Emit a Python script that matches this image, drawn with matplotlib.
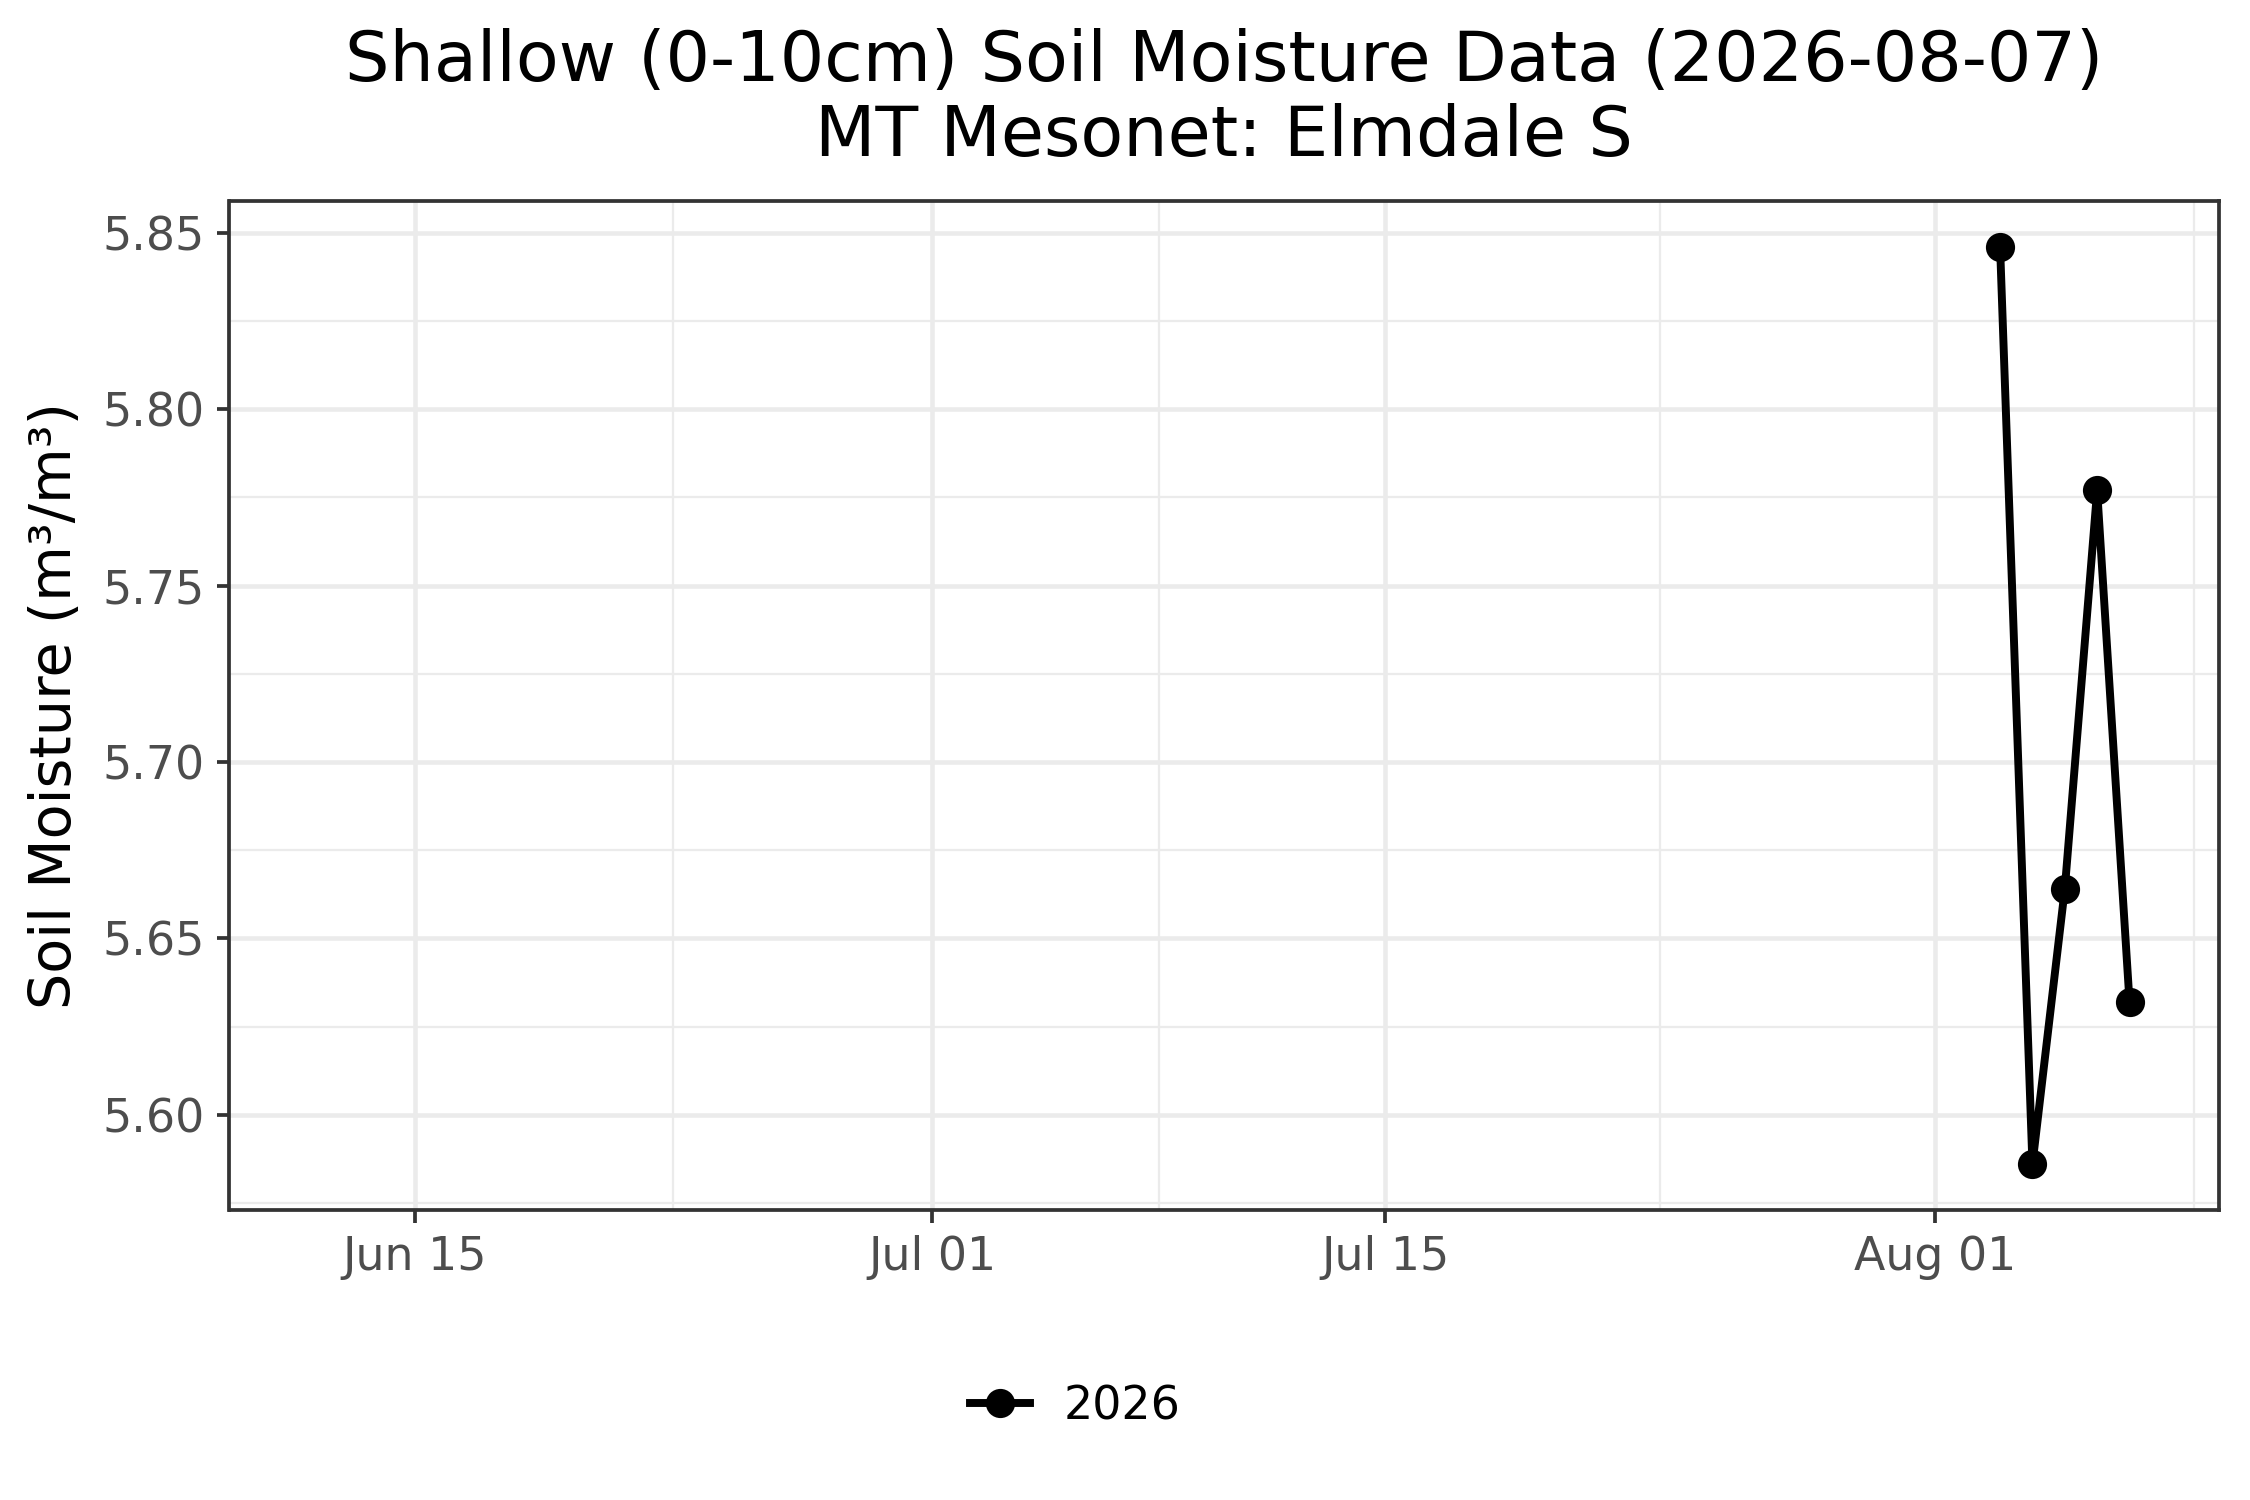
import datetime as dt
import matplotlib
matplotlib.use("Agg")
import matplotlib.pyplot as plt
import matplotlib.dates as mdates

# daily shallow soil moisture readings
dates = ["2026-08-03", "2026-08-04", "2026-08-05", "2026-08-06", "2026-08-07"]
moisture = [5.846, 5.586, 5.664, 5.777, 5.632]
series_label = "2026"

major_dates = ["2026-06-15", "2026-07-01", "2026-07-15", "2026-08-01"]
major_labels = ["Jun 15", "Jul 01", "Jul 15", "Aug 01"]
minor_dates = ["2026-06-23", "2026-07-08", "2026-07-23 12:00", "2026-08-09"]
y_major = [5.60, 5.65, 5.70, 5.75, 5.80, 5.85]
y_minor = [5.575, 5.625, 5.675, 5.725, 5.775, 5.825]

def to_dt(s):
    return dt.datetime.fromisoformat(s)

x = [to_dt(d) for d in dates]

plt.rcParams['font.family'] = ['DejaVu Sans']
fig = plt.figure(figsize=(7.5, 5), dpi=300)
ax = fig.add_axes([0.102, 0.1933, 0.884, 0.6727])

ax.plot(x, moisture, color="black", lw=1.9, marker="o", markersize=6,
        label=series_label, zorder=3)

ax.set_xlim(mdates.date2num(to_dt("2026-06-09 06:45")),
            mdates.date2num(to_dt("2026-08-09 18:00")))
ax.set_ylim(5.573, 5.859)

ax.set_xticks([mdates.date2num(to_dt(d)) for d in major_dates])
ax.set_xticklabels(major_labels)
ax.set_xticks([mdates.date2num(to_dt(d)) for d in minor_dates], minor=True)
ax.set_yticks(y_major)
ax.set_yticklabels([f"{v:.2f}" for v in y_major])
ax.set_yticks(y_minor, minor=True)

ax.grid(which="major", color="#EBEBEB", lw=1.1, zorder=0)
ax.grid(which="minor", color="#EBEBEB", lw=0.55, zorder=0)
ax.set_axisbelow(True)

for s in ax.spines.values():
    s.set_color("#333333")
    s.set_linewidth(0.9)

ax.tick_params(which="major", length=3, width=0.9, color="#333333",
               labelcolor="#4D4D4D", labelsize=11, pad=3)
ax.tick_params(which="minor", length=0)

ax.set_ylabel("Soil Moisture (m³/m³)", fontsize=13.75, labelpad=4.5)
fig.text(0.544, 0.981, "Shallow (0-10cm) Soil Moisture Data (2026-08-07)\nMT Mesonet: Elmdale S",
         ha="center", va="top", fontsize=16.8, linespacing=1.15)

fig.legend(loc="center", bbox_to_anchor=(0.478, 0.062), frameon=False,
           fontsize=11, handlelength=1.3, handletextpad=0.75)

fig.savefig("out.png", dpi=300)
